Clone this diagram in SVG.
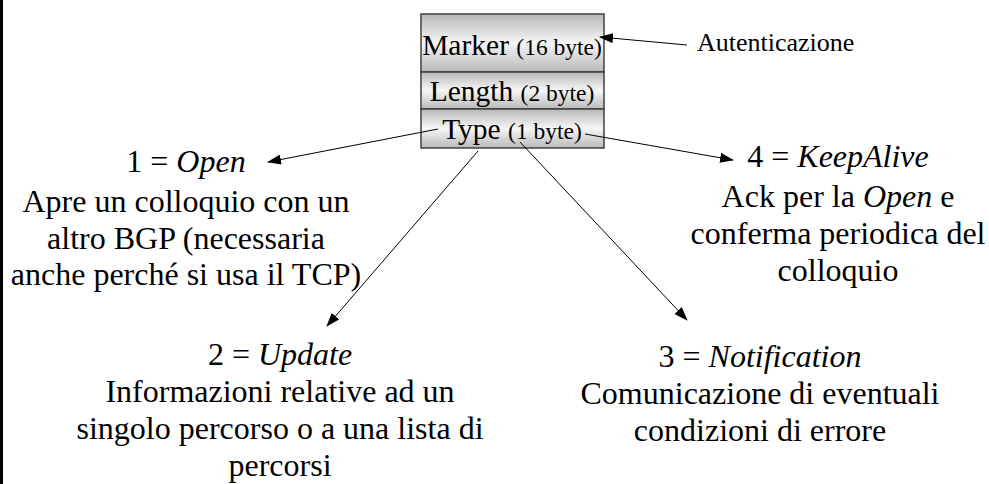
<svg xmlns="http://www.w3.org/2000/svg" width="989" height="484" viewBox="0 0 989 484">
<style>
.t{font-family:"Liberation Serif","Times New Roman",serif;fill:#000;}
.big{font-size:32px;}
.box{font-size:29.5px;}
.sm{font-size:23.5px;}
.lbl{font-size:26px;}
.it{font-style:italic;}
.cell{stroke:#404040;stroke-width:1.5;fill:url(#g);}
.conn line{stroke:#000;stroke-width:1;marker-end:url(#ah);}
</style>
<defs>
<linearGradient id="g" x1="0" y1="0" x2="0" y2="1">
<stop offset="0" stop-color="#b8b8b8"/>
<stop offset="0.5" stop-color="#f6f6f6"/>
<stop offset="1" stop-color="#b8b8b8"/>
</linearGradient>
<marker id="ah" markerWidth="14" markerHeight="10" refX="13" refY="5" orient="auto" markerUnits="userSpaceOnUse">
<path d="M0,0 L14,5 L0,10 Z" fill="#000"/>
</marker>
</defs>
<rect x="0" y="0" width="3" height="484" fill="#000"/>
<g id="header">
<rect class="cell" x="421" y="14" width="183" height="58"/>
<rect class="cell" x="421" y="72" width="183" height="37"/>
<rect class="cell" x="421" y="109" width="183" height="39"/>
<text class="t box" x="512" y="55" text-anchor="middle">Marker <tspan class="sm">(16 byte)</tspan></text>
<text class="t box" x="512" y="101" text-anchor="middle">Length <tspan class="sm">(2 byte)</tspan></text>
<text class="t box" x="512" y="139" text-anchor="middle">Type <tspan class="sm">(1 byte)</tspan></text>
</g>
<g id="auth">
<text class="t lbl" x="697" y="51">Autenticazione</text>
</g>
<g id="open">
<text class="t big" text-anchor="middle"><tspan x="186" y="172">1 = <tspan class="it">Open</tspan></tspan><tspan x="186" y="212">Apre un colloquio con un</tspan><tspan x="186" y="249">altro BGP (necessaria</tspan><tspan x="186" y="285">anche perché si usa il TCP)</tspan></text>
</g>
<g id="keepalive">
<text class="t big" text-anchor="middle"><tspan x="838" y="167">4 = <tspan class="it">KeepAlive</tspan></tspan><tspan x="838" y="207">Ack per la <tspan class="it">Open</tspan> e</tspan><tspan x="838" y="244">conferma periodica del</tspan><tspan x="838" y="281">colloquio</tspan></text>
</g>
<g id="update">
<text class="t big" text-anchor="middle"><tspan x="280" y="365">2 = <tspan class="it">Update</tspan></tspan><tspan x="280" y="402">Informazioni relative ad un</tspan><tspan x="280" y="439">singolo percorso o a una lista di</tspan><tspan x="280" y="476">percorsi</tspan></text>
</g>
<g id="notification">
<text class="t big" text-anchor="middle"><tspan x="760" y="367">3 = <tspan class="it">Notification</tspan></tspan><tspan x="760" y="404">Comunicazione di eventuali</tspan><tspan x="760" y="441">condizioni di errore</tspan></text>
</g>
<g id="connectors" class="conn">
<line x1="687" y1="45" x2="600" y2="37"/>
<line x1="438" y1="129" x2="268" y2="162"/>
<line x1="585" y1="134" x2="733" y2="160"/>
<line x1="478" y1="151" x2="327" y2="326"/>
<line x1="520" y1="142" x2="687" y2="320"/>
</g>
</svg>
